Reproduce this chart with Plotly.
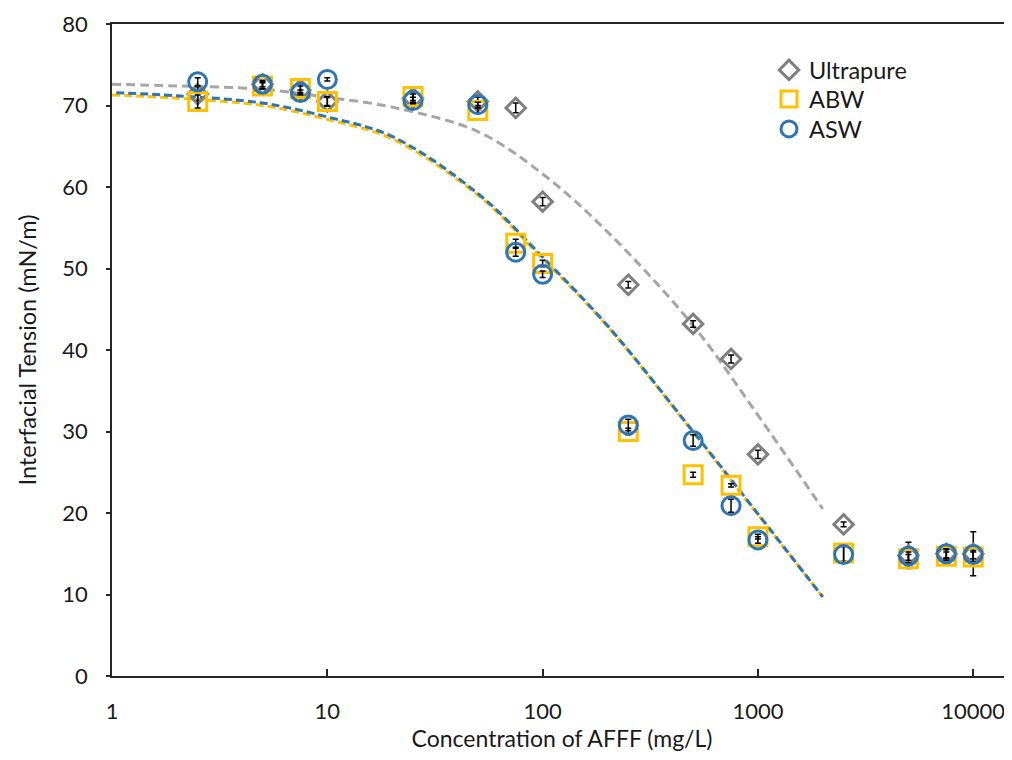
import plotly.graph_objects as go

# ---- data ----
conc = [2.5, 5, 7.5, 10, 25, 50, 75, 100, 250, 500, 750, 1000, 2500, 5000, 7500, 10000]

ultrapure = [71.4, 72.6, 71.9, 70.5, 70.9, 70.5, 69.7, 58.2, 48.0, 43.2, 38.9, 27.2, 18.6, 14.8, 15.0, 15.0]
ultrapure_err = [0.8, 0.5, 0.5, 0.5, 0.5, 0.5, 0.6, 0.5, 0.4, 0.4, 0.5, 0.5, 0.3, 1.6, 0.5, 2.7]

abw = [70.5, 72.4, 72.1, 70.5, 71.1, 69.4, 53.1, 50.6, 30.0, 24.7, 23.4, 17.1, 15.1, 14.4, 14.7, 14.6]
abw_err = [0.8, 0.4, 0.5, 0.6, 0.5, 0.3, 0.5, 0.4, 0.4, 0.3, 0.2, 0.3, 1.0, 0.5, 0.5, 0.6]

asw = [72.9, 72.6, 71.6, 73.2, 70.6, 70.1, 52.0, 49.3, 30.8, 28.9, 20.9, 16.7, 14.9, 14.7, 15.0, 14.9]
asw_err = [0.5, 0.3, 0.3, 0.2, 0.4, 0.3, 0.5, 0.4, 0.7, 0.7, 0.8, 0.4, 1.0, 0.5, 0.6, 0.5]

# fitted curves
fit_x = [1, 2, 5, 10, 20, 50, 100, 200, 500, 1000, 2000]
fit_ultrapure = [72.6, 72.4, 72.0, 71.0, 69.8, 66.8, 61.6, 54.5, 43.0, 32.0, 20.5]
fit_abw = [71.3, 70.9, 70.0, 68.3, 65.9, 59.0, 51.2, 42.9, 29.9, 19.8, 9.7]
fit_asw = [71.6, 71.2, 70.3, 68.6, 66.2, 59.2, 51.4, 43.0, 30.0, 19.9, 9.7]

x_ticks = [1, 10, 100, 1000, 10000]
x_ticktext = ["1", "10", "100", "1000", "10000"]
y_ticks = [0, 10, 20, 30, 40, 50, 60, 70, 80]

GRAY_LINE = "#A6A6A6"
GRAY = "#7F7F7F"
YELLOW = "#FFC000"
BLUE = "#2E75B6"
FONT = "Lato"
TXT = "#1a1a1a"

fig = go.Figure()

fig.add_trace(go.Scatter(x=fit_x, y=fit_ultrapure, mode="lines", line_shape="spline",
                         line=dict(color=GRAY_LINE, width=3, dash="9px,5px"),
                         showlegend=False, hoverinfo="skip"))
fig.add_trace(go.Scatter(x=fit_x, y=fit_abw, mode="lines", line_shape="spline",
                         line=dict(color=YELLOW, width=3, dash="8px,4px"),
                         showlegend=False, hoverinfo="skip"))
fig.add_trace(go.Scatter(x=fit_x, y=fit_asw, mode="lines", line_shape="spline",
                         line=dict(color=BLUE, width=3, dash="0px,4px,8px,0px"),
                         showlegend=False, hoverinfo="skip"))

err_style = dict(type="data", visible=True, color="black", thickness=1.5, width=3)

fig.add_trace(go.Scatter(x=conc, y=ultrapure, mode="markers", name="Ultrapure",
                         legend="legend",
                         marker=dict(symbol="diamond-open", size=15, color=GRAY,
                                     line=dict(color=GRAY, width=3)),
                         error_y=dict(array=ultrapure_err, **err_style)))
fig.add_trace(go.Scatter(x=conc, y=abw, mode="markers", name="ABW",
                         legend="legend2",
                         marker=dict(symbol="square-open", size=18, color=YELLOW,
                                     line=dict(color=YELLOW, width=3)),
                         error_y=dict(array=abw_err, **err_style)))
fig.add_trace(go.Scatter(x=conc, y=asw, mode="markers", name="ASW",
                         legend="legend3",
                         marker=dict(symbol="circle-open", size=18, color=BLUE,
                                     line=dict(color=BLUE, width=3)),
                         error_y=dict(array=asw_err, **err_style)))

leg_common = dict(x=0.73, xanchor="left", yanchor="top",
                  font=dict(family=FONT, size=23.5, color=TXT),
                  bgcolor="rgba(0,0,0,0)")

# page body has an 8px margin, so the figure is sized to fill the rest of the window
fig.update_layout(
    width=1004, height=752,
    margin=dict(l=104, r=0, t=16, b=84, autoexpand=False),
    paper_bgcolor="white", plot_bgcolor="white",
    font=dict(family=FONT, size=22, color=TXT),
    legend=dict(y=0.963, **leg_common),
    legend2=dict(y=0.9185, **leg_common),
    legend3=dict(y=0.8725, **leg_common),
    xaxis=dict(type="log", range=[0, 4.18], tickvals=x_ticks, ticktext=x_ticktext,
               automargin=False,
               showgrid=False, zeroline=False, showline=True, linecolor="#262626",
               linewidth=1.5, mirror=True, ticks="inside", ticklen=7, tickwidth=1.5,
               tickcolor="#262626", ticklabelstandoff=15,
               tickfont=dict(family=FONT, size=22, color=TXT),
               title=dict(text="Concentration of AFFF (mg/L)", standoff=0,
                          font=dict(family=FONT, size=23, color=TXT))),
    yaxis=dict(range=[0, 80], tickvals=y_ticks, showgrid=False, zeroline=False,
               automargin=False,
               showline=True, linecolor="#262626", linewidth=1.5,
               ticks="outside", ticklen=4, tickwidth=1.5, tickcolor="#262626",
               ticklabelstandoff=14,
               tickfont=dict(family=FONT, size=22, color=TXT),
               title=dict(text="Interfacial Tension (mN/m)", standoff=19,
                          font=dict(family=FONT, size=23.5, color=TXT))),
)

fig.write_html("out.html")
